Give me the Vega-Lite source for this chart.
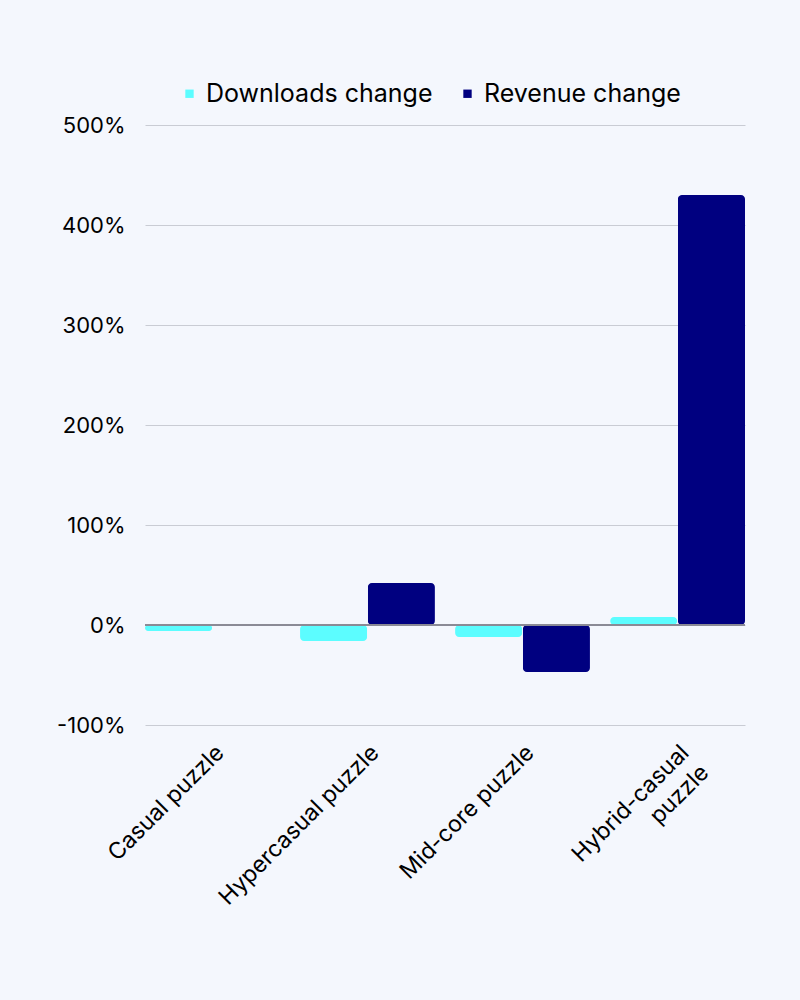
{
  "$schema": "https://vega.github.io/schema/vega-lite/v6.json",
  "width": 600,
  "height": 600,
  "autosize": {"type": "none"},
  "padding": {"left": 145, "top": 125, "right": 55, "bottom": 275},
  "background": "#f4f7fd",
  "config": {"view": {"stroke": null}, "font": "Inter"},
  "data": {
    "values": [
      {"genre": "Casual puzzle", "metric": "Downloads change", "value": -6},
      {"genre": "Casual puzzle", "metric": "Revenue change", "value": -0.5},
      {"genre": "Hypercasual puzzle", "metric": "Downloads change", "value": -16},
      {"genre": "Hypercasual puzzle", "metric": "Revenue change", "value": 42},
      {"genre": "Mid-core puzzle", "metric": "Downloads change", "value": -12},
      {"genre": "Mid-core puzzle", "metric": "Revenue change", "value": -47},
      {"genre": "Hybrid-casual puzzle", "metric": "Downloads change", "value": 8},
      {"genre": "Hybrid-casual puzzle", "metric": "Revenue change", "value": 430}
    ]
  },
  "layer": [
    {
      "mark": {"type": "bar", "cornerRadius": 4},
      "encoding": {
        "x": {
          "field": "genre",
          "type": "nominal",
          "sort": ["Casual puzzle", "Hypercasual puzzle", "Mid-core puzzle", "Hybrid-casual puzzle"],
          "scale": {"paddingInner": 0.13, "paddingOuter": 0},
          "title": null,
          "axis": {
            "domain": false,
            "ticks": false,
            "labelAngle": -45,
            "labelFontSize": 23,
            "labelColor": "#000000",
            "labelPadding": 16,
            "labelLimit": 400,
            "labelLineHeight": 28,
            "labelExpr": "datum.value == 'Hybrid-casual puzzle' ? ['Hybrid-casual', 'puzzle'] : datum.value"
          }
        },
        "xOffset": {
          "field": "metric",
          "sort": ["Downloads change", "Revenue change"],
          "scale": {"paddingInner": 0.01}
        },
        "y": {
          "field": "value",
          "type": "quantitative",
          "scale": {"domain": [-100, 500], "nice": false},
          "title": null,
          "axis": {
            "values": [-100, 0, 100, 200, 300, 400, 500],
            "domain": false,
            "ticks": false,
            "labelFontSize": 22,
            "labelColor": "#000000",
            "labelPadding": 20,
            "labelExpr": "datum.value + '%'",
            "gridColor": "#c9ccd4",
            "gridWidth": 1
          }
        },
        "color": {
          "field": "metric",
          "type": "nominal",
          "scale": {"domain": ["Downloads change", "Revenue change"], "range": ["#5cfdff", "#000080"]},
          "legend": {
            "title": null,
            "orient": "none",
            "legendX": 32,
            "legendY": -44,
            "direction": "horizontal",
            "symbolType": "square",
            "symbolSize": 70,
            "labelFontSize": 25,
            "labelColor": "#000000",
            "labelOffset": 4,
            "columnPadding": 22,
            "labelLimit": 400
          }
        }
      }
    },
    {
      "mark": {"type": "rule", "color": "#8a8a95", "strokeWidth": 1},
      "encoding": {"y": {"datum": 0}}
    }
  ]
}
